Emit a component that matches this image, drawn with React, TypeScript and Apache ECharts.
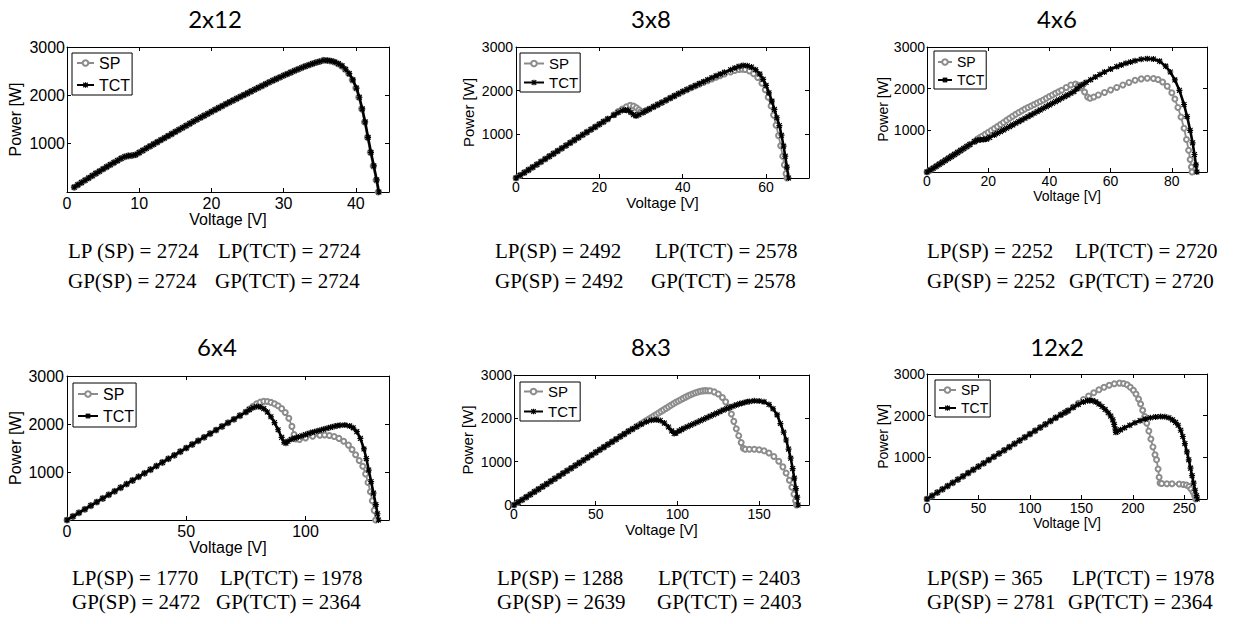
import React, { useEffect, useRef } from "react";
import * as echarts from "echarts";

// ---------------- DATA (Voltage [V], Power [W]) ----------------
const titles = ["2x12", "3x8", "4x6", "6x4", "8x3", "12x2"];

const sp2x12 = [[1,100],[1.5,148],[2,195],[2.5,243],[3,290],[3.5,338],[4,385],[4.5,430],[5,475],[5.5,520],[6,565],[6.5,608],[7,650],[7.5,695],[8,730],[8.5,748],[9,755],[9.5,770],[10,815],[10.5,860],[11,905],[11.5,948],[12,990],[12.5,1032],[13,1075],[13.5,1118],[14,1160],[14.5,1202],[15,1245],[15.5,1288],[16,1330],[16.5,1372],[17,1415],[17.5,1458],[18,1500],[18.5,1540],[19,1580],[19.5,1620],[20,1660],[20.5,1700],[21,1740],[21.5,1780],[22,1820],[22.5,1858],[23,1895],[23.5,1932],[24,1970],[24.5,2008],[25,2045],[25.5,2082],[26,2120],[26.5,2158],[27,2195],[27.5,2232],[28,2270],[28.5,2305],[29,2340],[29.5,2375],[30,2410],[30.5,2442],[31,2475],[31.5,2508],[32,2540],[32.5,2570],[33,2600],[33.5,2628],[34,2655],[34.5,2680],[35,2700],[35.5,2724],[36,2722],[36.5,2712],[37,2690],[37.5,2655],[38,2610],[38.5,2540],[39,2450],[39.5,2320],[40,2150],[40.4,1960],[40.8,1720],[41.2,1450],[41.6,1130],[42,820],[42.4,540],[42.8,250],[43.1,0]];
const tct2x12 = [[1,100],[1.5,148],[2,195],[2.5,243],[3,290],[3.5,338],[4,385],[4.5,430],[5,475],[5.5,520],[6,565],[6.5,608],[7,650],[7.5,695],[8,730],[8.5,748],[9,755],[9.5,770],[10,815],[10.5,860],[11,905],[11.5,948],[12,990],[12.5,1032],[13,1075],[13.5,1118],[14,1160],[14.5,1202],[15,1245],[15.5,1288],[16,1330],[16.5,1372],[17,1415],[17.5,1458],[18,1500],[18.5,1540],[19,1580],[19.5,1620],[20,1660],[20.5,1700],[21,1740],[21.5,1780],[22,1820],[22.5,1858],[23,1895],[23.5,1932],[24,1970],[24.5,2008],[25,2045],[25.5,2082],[26,2120],[26.5,2158],[27,2195],[27.5,2232],[28,2270],[28.5,2305],[29,2340],[29.5,2375],[30,2410],[30.5,2442],[31,2475],[31.5,2508],[32,2540],[32.5,2570],[33,2600],[33.5,2628],[34,2655],[34.5,2680],[35,2700],[35.6,2724],[36.1,2722],[36.6,2712],[37.1,2690],[37.6,2655],[38.1,2610],[38.6,2540],[39.1,2450],[39.6,2320],[40.1,2150],[40.5,1960],[40.9,1720],[41.3,1450],[41.7,1130],[42.1,820],[42.5,540],[42.9,250],[43.2,0]];

const sp3x8 = [[0,0],[1,62],[2,124],[3,186],[4,248],[5,310],[6,372],[7,434],[8,496],[9,558],[10,620],[11,682],[12,744],[13,806],[14,868],[15,930],[16,990],[17,1050],[18,1110],[19,1170],[20,1230],[21,1290],[22,1350],[23.5,1450],[24.5,1520],[25.5,1580],[26.5,1630],[27.4,1665],[28.2,1650],[28.9,1610],[29.5,1560],[30,1520],[30.5,1510],[31.2,1545],[32,1580],[33,1630],[34,1680],[35,1730],[36,1780],[37,1830],[38,1880],[39,1928],[40,1975],[41,2020],[42,2065],[43,2108],[44,2150],[45,2190],[46,2230],[47,2270],[48,2310],[49,2345],[50,2380],[51.5,2430],[52.5,2465],[53.5,2485],[54.3,2492],[55,2485],[56,2450],[57,2390],[58,2300],[59,2170],[59.8,2020],[60.5,1850],[61.2,1650],[61.8,1440],[62.4,1210],[63,970],[63.5,740],[64,500],[64.4,300],[64.8,100],[65,0]];
const tct3x8 = [[0,0],[1,62],[2,124],[3,186],[4,248],[5,310],[6,372],[7,434],[8,496],[9,558],[10,620],[11,682],[12,744],[13,806],[14,868],[15,930],[16,990],[17,1050],[18,1110],[19,1170],[20,1230],[21,1290],[22,1350],[23.5,1440],[24.5,1500],[25.5,1545],[26.3,1560],[27,1540],[27.6,1500],[28.2,1450],[28.8,1420],[29.5,1450],[30.5,1500],[31.2,1540],[32,1580],[33,1630],[34,1680],[35,1730],[36,1780],[37,1830],[38,1880],[39,1930],[40,1980],[41,2025],[42,2070],[43,2115],[44,2160],[45,2205],[46,2250],[47,2295],[48,2340],[49,2380],[50,2420],[51.5,2480],[52.5,2520],[53.5,2555],[54.5,2578],[55.5,2570],[56.5,2540],[57.5,2480],[58.5,2380],[59.3,2260],[60,2120],[60.7,1950],[61.4,1760],[62,1570],[62.6,1380],[63.2,1200],[63.7,980],[64.2,730],[64.6,500],[65,250],[65.4,0]];

const sp4x6 = [[0,0],[1,45],[2,90],[3,138],[4,185],[5,232],[6,280],[7,328],[8,375],[9,422],[10,470],[11,518],[12,565],[13,612],[14,660],[15.5,730],[16.5,790],[17.3,825],[18,860],[19,905],[20,950],[21,998],[22,1045],[23,1092],[24,1140],[25,1190],[26,1240],[27,1290],[28,1340],[29,1385],[30,1430],[31,1470],[32,1510],[33,1548],[34,1585],[35,1620],[36,1655],[37,1692],[38,1730],[39,1770],[40,1810],[41,1850],[42,1890],[43,1925],[44,1960],[45.5,2030],[47,2090],[48.5,2110],[49.5,2080],[50.5,2020],[51.5,1920],[52.5,1800],[53.3,1770],[54.5,1800],[56,1850],[58,1910],[60,1970],[62,2030],[64,2090],[66,2150],[68,2200],[70,2235],[72,2252],[74,2245],[75.5,2220],[77,2160],[78.5,2060],[80,1900],[81,1750],[82,1550],[83,1320],[84,1050],[84.8,780],[85.5,520],[86,300],[86.4,120],[86.6,0]];
const tct4x6 = [[0,0],[1,45],[2,90],[3,138],[4,185],[5,232],[6,280],[7,328],[8,375],[9,422],[10,470],[11,518],[12,565],[13,612],[14,660],[15.5,730],[16.5,765],[17.5,775],[18.5,778],[19.5,790],[20.5,830],[22,890],[23,930],[24,970],[25,1010],[26,1050],[27,1090],[28,1130],[29,1170],[30,1210],[31,1250],[32,1290],[33,1330],[34,1370],[35,1410],[36,1450],[37,1490],[38,1530],[39,1570],[40,1610],[41,1650],[42,1690],[43,1730],[44,1770],[45,1810],[46,1850],[47,1890],[48,1930],[49,1995],[50,2060],[51,2105],[52,2150],[53.5,2215],[55,2280],[56.5,2340],[58,2400],[60,2470],[62,2530],[63.5,2570],[65,2610],[66.5,2640],[68,2670],[70,2705],[72,2720],[74,2710],[76,2660],[78,2540],[79.5,2400],[81,2210],[82.5,1960],[84,1620],[85,1330],[86,1000],[86.8,700],[87.4,420],[87.9,170],[88.2,0]];

const sp6x4 = [[0,0],[2.5,75],[5,150],[7.5,225],[10,300],[12.5,375],[15,450],[17.5,525],[20,600],[22.5,675],[25,750],[27.5,825],[30,900],[32.5,975],[35,1050],[37.5,1125],[40,1200],[42.5,1275],[45,1350],[47.5,1425],[50,1500],[52.5,1575],[55,1650],[57.5,1725],[60,1800],[62.5,1875],[65,1950],[67.5,2025],[70,2100],[72.5,2175],[75,2250],[76.5,2310],[78,2370],[79.5,2420],[81,2455],[82.5,2472],[84,2468],[85.5,2450],[87,2420],[88.5,2380],[90,2320],[91.5,2240],[93,2120],[94.3,1950],[95.2,1780],[96,1690],[97.5,1680],[100,1710],[103,1745],[106,1765],[108,1770],[110,1760],[112,1740],[114,1700],[116,1640],[118,1560],[119.5,1470],[121,1360],[122.5,1240],[124,1120],[125.2,960],[126.2,780],[127.2,590],[128,400],[128.8,200],[129.4,0]];
const tct6x4 = [[0,0],[2.5,75],[5,150],[7.5,225],[10,300],[12.5,375],[15,450],[17.5,525],[20,600],[22.5,675],[25,750],[27.5,825],[30,900],[32.5,975],[35,1050],[37.5,1125],[40,1200],[42.5,1275],[45,1350],[47.5,1425],[50,1500],[52.5,1575],[55,1650],[57.5,1725],[60,1800],[62.5,1875],[65,1950],[67.5,2025],[70,2100],[72.5,2175],[75,2250],[76.5,2300],[78,2340],[79.5,2364],[81,2355],[82.5,2320],[84,2250],[85.5,2150],[87,2030],[88.5,1880],[90,1720],[91,1620],[91.8,1600],[92.6,1640],[94,1680],[95.5,1705],[97,1730],[98.5,1755],[100,1780],[101.5,1805],[103,1830],[104.5,1850],[106,1870],[107.5,1890],[109,1910],[110.5,1930],[112,1950],[113.3,1965],[114.5,1975],[116.5,1978],[118.5,1960],[120,1920],[121.5,1840],[123,1700],[124.5,1480],[125.5,1280],[126.5,1040],[127.5,800],[128.5,560],[129.5,320],[130.2,130],[130.6,0]];

const sp8x3 = [[0,0],[2.5,61],[5,122],[7.5,182],[10,243],[12.5,304],[15,365],[17.5,425],[20,486],[22.5,547],[25,608],[27.5,668],[30,730],[32.5,790],[35,850],[37.5,911],[40,972],[42.5,1033],[45,1094],[47.5,1155],[50,1215],[52.5,1276],[55,1336],[57.5,1397],[60,1458],[62.5,1519],[65,1580],[67.5,1640],[70,1700],[72.5,1755],[75,1810],[76.5,1845],[78,1880],[79.5,1915],[81,1950],[82.5,1985],[84,2020],[85.5,2055],[87,2090],[88.5,2125],[90,2160],[91.5,2195],[93,2230],[94.5,2265],[96,2300],[97.5,2335],[99,2370],[100.5,2400],[102,2430],[103.5,2460],[105,2490],[106.5,2518],[108,2545],[109.5,2568],[111,2590],[112.5,2608],[114,2625],[115.5,2634],[117,2639],[118.5,2638],[120,2635],[122.5,2610],[125,2560],[127.5,2480],[129.5,2380],[131.3,2260],[133,2100],[134.5,1930],[136,1760],[137.5,1600],[139,1440],[140.3,1310],[141.5,1288],[144,1288],[147,1285],[150,1275],[153,1250],[156,1200],[159,1120],[162,1010],[164.5,880],[166.5,740],[168.5,570],[170,410],[171.3,250],[172.3,100],[172.8,0]];
const tct8x3 = [[0,0],[2.5,61],[5,122],[7.5,182],[10,243],[12.5,304],[15,365],[17.5,425],[20,486],[22.5,547],[25,608],[27.5,668],[30,730],[32.5,790],[35,850],[37.5,911],[40,972],[42.5,1033],[45,1094],[47.5,1155],[50,1215],[52.5,1276],[55,1336],[57.5,1397],[60,1458],[62.5,1519],[65,1580],[67.5,1640],[70,1700],[72.5,1755],[75,1810],[78,1870],[81,1920],[84,1955],[87,1965],[89.5,1950],[92,1890],[94.5,1800],[96.5,1710],[98,1650],[99,1660],[101,1710],[102.5,1740],[104,1770],[106,1805],[108,1840],[110,1875],[112,1910],[114,1945],[116,1980],[118,2015],[120,2050],[122,2085],[124,2120],[126,2155],[128,2190],[130,2220],[132,2250],[134,2280],[136,2310],[138,2335],[140,2355],[142,2375],[144,2390],[147,2403],[150,2400],[153,2380],[156,2320],[158.5,2220],[161,2080],[163,1880],[165,1680],[166.5,1500],[168,1290],[169.3,1080],[170.5,840],[171.5,620],[172.5,380],[173.3,180],[173.8,0]];

const sp12x2 = [[0,0],[5,78],[10,156],[15,234],[20,312],[25,390],[30,468],[35,546],[40,624],[45,702],[50,780],[55,858],[60,936],[65,1014],[70,1092],[75,1170],[80,1248],[85,1326],[90,1404],[95,1482],[100,1560],[105,1638],[110,1716],[115,1794],[120,1872],[125,1948],[130,2020],[134,2075],[137,2120],[142,2210],[147,2300],[152,2390],[157,2470],[162,2550],[167,2620],[172,2680],[177,2730],[182,2765],[187,2781],[191,2772],[194.5,2740],[197.5,2680],[200.5,2610],[203,2520],[205.5,2400],[207.5,2280],[209.5,2130],[211.5,1980],[213.5,1820],[215.5,1630],[217.5,1440],[219.5,1250],[221.5,1060],[223,940],[224.5,720],[225.5,520],[226.4,384],[228,370],[233,366],[238,365],[245,360],[249,350],[252,335],[254.5,300],[256.5,240],[258.5,160],[260,80],[261,0]];
const tct12x2 = [[0,0],[5,78],[10,156],[15,234],[20,312],[25,390],[30,468],[35,546],[40,624],[45,702],[50,780],[55,858],[60,936],[65,1014],[70,1092],[75,1170],[80,1248],[85,1326],[90,1404],[95,1482],[100,1560],[105,1638],[110,1716],[115,1794],[120,1872],[125,1948],[130,2020],[134,2075],[137,2120],[142,2200],[147,2270],[152,2330],[156,2360],[158,2364],[161,2360],[164,2330],[167,2280],[170,2220],[173,2150],[176,2070],[178.5,1990],[180.5,1900],[181.8,1790],[182.8,1680],[183.5,1600],[185,1620],[188,1660],[192,1710],[197,1770],[202,1830],[207,1880],[212,1920],[217,1950],[222,1970],[227,1978],[231,1975],[235,1950],[238.5,1900],[241.5,1840],[244,1770],[246.5,1650],[248.5,1500],[250.5,1330],[252.5,1130],[254.3,940],[256,740],[257.5,560],[259,380],[260.5,210],[261.8,80],[262.5,0]];

const spSeries = [sp2x12, sp3x8, sp4x6, sp6x4, sp8x3, sp12x2];
const tctSeries = [tct2x12, tct3x8, tct4x6, tct6x4, tct8x3, tct12x2];

const lpSP = [2724, 2492, 2252, 1770, 1288, 365];
const lpTCT = [2724, 2578, 2720, 1978, 2403, 1978];
const gpSP = [2724, 2492, 2252, 2472, 2639, 2781];
const gpTCT = [2724, 2578, 2720, 2364, 2403, 2364];

const xMaxes = [44.6, 70.3, 91.5, 135, 180.5, 272];
const xIntervals = [10, 20, 20, 50, 50, 50];
const yTicks = [0, 1000, 2000, 3000];

// ---------------- LAYOUT ----------------
type Layout = {
  box: [number, number, number, number];
  fs: number; nameFs: number; xGap: number; yGap: number; xMargin: number; yMargin: number;
  showZero: boolean;
  leg: { left: number; top: number; pad: number[]; gap: number; iw: number; fs: number };
  title: [number, number];
  ann: { lx: number; rx1: number; rx2: number; y1: number; y2: number };
};

const layouts: Layout[] = [
  { box: [67, 47, 389, 192], fs: 16, nameFs: 16, xGap: 17, yGap: 44, xMargin: 3, yMargin: 2, showZero: false,
    leg: { left: 72, top: 53, pad: [2, 2, 2, 4], gap: 6, iw: 17, fs: 16 }, title: [215, 18],
    ann: { lx: 68, rx1: 218, rx2: 215, y1: 251, y2: 281 } },
  { box: [516, 47, 809, 178], fs: 14, nameFs: 15, xGap: 17, yGap: 40, xMargin: 2, yMargin: 3, showZero: false,
    leg: { left: 520, top: 53, pad: [3, 2, 2, 3], gap: 4, iw: 20, fs: 15 }, title: [651, 18],
    ann: { lx: 495, rx1: 655, rx2: 651, y1: 251, y2: 281 } },
  { box: [927, 47, 1207, 172], fs: 14, nameFs: 14, xGap: 14, yGap: 37, xMargin: 2, yMargin: 2, showZero: false,
    leg: { left: 934, top: 51, pad: [4, 2, 2, 3], gap: 4, iw: 14, fs: 14 }, title: [1057, 18],
    ann: { lx: 927, rx1: 1075, rx2: 1069, y1: 251, y2: 281 } },
  { box: [67, 376, 389, 520], fs: 16, nameFs: 16, xGap: 18, yGap: 44, xMargin: 3, yMargin: 3, showZero: false,
    leg: { left: 73, top: 383, pad: [3, 2, 3, 4], gap: 6, iw: 20, fs: 16 }, title: [217, 346],
    ann: { lx: 72, rx1: 220, rx2: 216, y1: 578, y2: 602 } },
  { box: [514, 375, 809, 505], fs: 14, nameFs: 15, xGap: 14, yGap: 39, xMargin: 2, yMargin: 2, showZero: true,
    leg: { left: 520, top: 382, pad: [2, 3, 2, 3], gap: 5, iw: 19, fs: 15 }, title: [651, 346],
    ann: { lx: 497, rx1: 658, rx2: 657, y1: 578, y2: 602 } },
  { box: [927, 374, 1207, 499], fs: 14, nameFs: 14, xGap: 15, yGap: 37, xMargin: 2, yMargin: 2, showZero: false,
    leg: { left: 935, top: 380, pad: [3, 2, 2, 3], gap: 4, iw: 17, fs: 14 }, title: [1057, 346],
    ann: { lx: 927, rx1: 1072, rx2: 1068, y1: 578, y2: 602 } },
];

const SANS = "'Liberation Sans', Arial, sans-serif";
const SERIF = "'Liberation Serif', 'Times New Roman', serif";
const TITLE_FONT = "Lato, 'Open Sans', sans-serif";
const SP_COLOR = "#8c8c8c";
const ASTERISK =
  "path://M8,0H12V20H8Z M0,8H20V12H0Z M3.41,0.59L19.41,16.59L16.59,19.41L0.59,3.41Z M19.41,3.41L3.41,19.41L0.59,16.59L16.59,0.59Z";

function buildOption() {
  const grid: any[] = [];
  const xAxis: any[] = [];
  const yAxis: any[] = [];
  const series: any[] = [];
  const legend: any[] = [];
  const graphic: any[] = [];

  layouts.forEach((L, i) => {
    const [l, t, r, b] = L.box;
    grid.push({ left: l, top: t, width: r - l, height: b - t, containLabel: false });
    const xInt = xIntervals[i];
    const axisLine = { show: true, onZero: false, lineStyle: { color: "#000", width: 1 } };
    const tick = { show: true, inside: true, length: 4, lineStyle: { color: "#000", width: 1 } };
    xAxis.push({
      gridIndex: i, type: "value", position: "bottom", min: 0, max: xMaxes[i], interval: xInt,
      axisLine, axisTick: tick, splitLine: { show: false },
      axisLabel: {
        margin: L.xMargin, fontSize: L.fs, fontFamily: SANS, color: "#000",
        formatter: (v: number) => (Math.abs(v / xInt - Math.round(v / xInt)) < 1e-6 ? String(v) : ""),
      },
      name: "Voltage [V]", nameLocation: "middle", nameGap: L.xGap,
      nameTextStyle: { fontSize: L.nameFs, fontFamily: SANS, color: "#000" },
    });
    xAxis.push({
      gridIndex: i, type: "value", position: "top", min: 0, max: xMaxes[i], interval: xInt,
      axisLine, axisTick: tick, splitLine: { show: false }, axisLabel: { show: false },
    });
    yAxis.push({
      gridIndex: i, type: "value", position: "left", min: yTicks[0], max: yTicks[yTicks.length - 1], interval: yTicks[1] - yTicks[0],
      axisLine, axisTick: tick, splitLine: { show: false },
      axisLabel: {
        margin: L.yMargin, fontSize: L.fs, fontFamily: SANS, color: "#000",
        formatter: (v: number) => (v === 0 && !L.showZero ? "" : String(v)),
      },
      name: "Power [W]", nameLocation: "middle", nameGap: L.yGap,
      nameTextStyle: { fontSize: L.nameFs, fontFamily: SANS, color: "#000" },
    });
    yAxis.push({
      gridIndex: i, type: "value", position: "right", min: yTicks[0], max: yTicks[yTicks.length - 1], interval: yTicks[1] - yTicks[0],
      axisLine, axisTick: tick, splitLine: { show: false }, axisLabel: { show: false },
    });

    series.push({
      type: "line", name: "SP", xAxisIndex: 2 * i, yAxisIndex: 2 * i, data: spSeries[i],
      symbol: "emptyCircle", symbolSize: 5, showSymbol: true,
      lineStyle: { color: SP_COLOR, width: 1.8 },
      itemStyle: { color: SP_COLOR, borderColor: SP_COLOR, borderWidth: 1 },
      z: 2,
    });
    series.push({
      type: "line", name: "TCT", xAxisIndex: 2 * i, yAxisIndex: 2 * i, data: tctSeries[i],
      symbol: ASTERISK, symbolSize: 6, showSymbol: true,
      lineStyle: { color: "#000", width: 2.6 },
      itemStyle: { color: "#000" },
      z: 3,
    });

    legend.push({
      orient: "vertical", left: L.leg.left, top: L.leg.top, data: ["SP", "TCT"],
      selectedMode: false, borderColor: "#000", borderWidth: 1, borderRadius: 0,
      backgroundColor: "#fff", padding: L.leg.pad, itemGap: L.leg.gap,
      itemWidth: L.leg.iw, itemHeight: 7,
      textStyle: { fontSize: L.leg.fs, fontFamily: SANS, color: "#000" },
    });

    graphic.push({
      type: "text", x: L.title[0], y: L.title[1],
      style: { text: titles[i], fontSize: 24, fontFamily: TITLE_FONT, fill: "#000", align: "center", verticalAlign: "middle" },
    });
    const lpLabel = i === 0 ? "LP (SP)" : "LP(SP)";
    const annStyle = { fontSize: 21, fontFamily: SERIF, fill: "#000", verticalAlign: "middle" };
    graphic.push({ type: "text", x: L.ann.lx, y: L.ann.y1, style: { ...annStyle, text: `${lpLabel} = ${lpSP[i]}` } });
    graphic.push({ type: "text", x: L.ann.rx1, y: L.ann.y1, style: { ...annStyle, text: `LP(TCT) = ${lpTCT[i]}` } });
    graphic.push({ type: "text", x: L.ann.lx, y: L.ann.y2, style: { ...annStyle, text: `GP(SP) = ${gpSP[i]}` } });
    graphic.push({ type: "text", x: L.ann.rx2, y: L.ann.y2, style: { ...annStyle, text: `GP(TCT) = ${gpTCT[i]}` } });
  });

  return {
    animation: false,
    backgroundColor: "#fff",
    grid, xAxis, yAxis, series, legend, graphic,
  };
}

export default function App() {
  const ref = useRef<HTMLDivElement>(null);
  useEffect(() => {
    if (!ref.current) return;
    const chart = echarts.init(ref.current, null, { renderer: "svg" });
    chart.setOption(buildOption() as any);
    return () => chart.dispose();
  }, []);
  return (
    <div
      ref={ref}
      style={{ position: "absolute", left: 0, top: 0, width: 1233, height: 624, background: "#fff" }}
    />
  );
}
